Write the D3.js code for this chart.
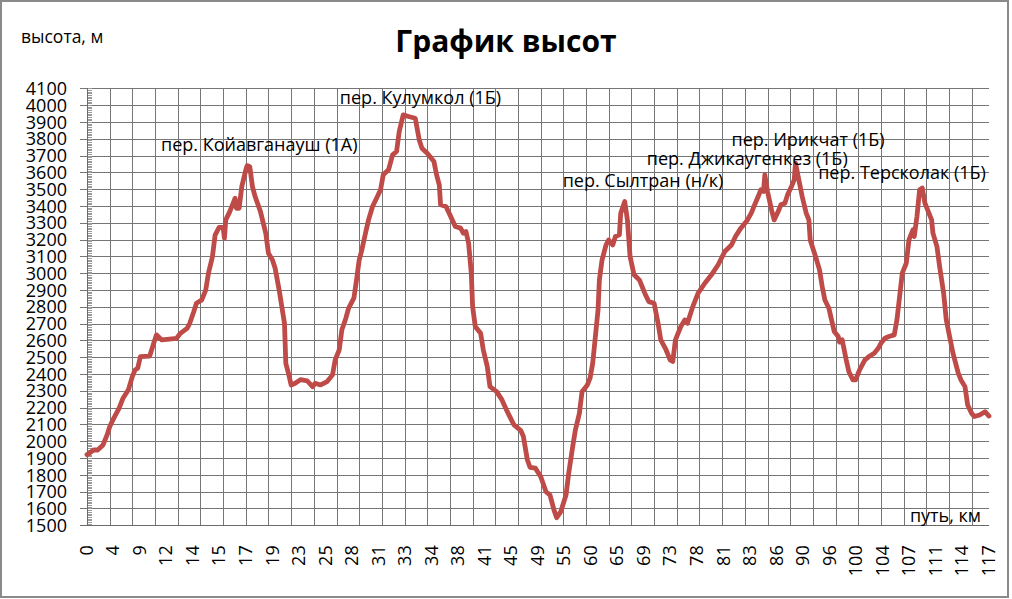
<!DOCTYPE html>
<html>
<head>
<meta charset="utf-8">
<script src="https://cdn.jsdelivr.net/npm/d3@7"></script>
<style>
  html, body { margin: 0; padding: 0; background: #fff; }
  svg { display: block; font-family: "Open Sans", "Noto Sans", sans-serif; }
</style>
</head>
<body>
<svg id="chart" width="1012" height="599"></svg>
<script>
// ---- data ----
const title = "График высот";
const yTitle = "высота, м";
const xTitle = "путь, км";

// point number along the track (category index) and elevation, m
const pointIndex = [0,5,8,12,15,17,20,24,27,31,34,36,38,40,47,50,52,56,60,67,70,75,77,80,82,86,89,91,94,96,99,102,103,104,107,110,111,112,114,116,119,120,122,124,126,130,134,136,139,141,144,146,148,149,151,153,156,160,165,169,171,175,180,184,186,189,191,194,196,200,202,204,206,209,211,214,217,220,222,226,229,232,234,237,241,246,249,251,255,260,262,264,265,269,272,276,280,282,284,286,288,289,291,295,297,300,302,307,311,315,320,325,327,330,332,336,340,344,347,350,352,355,359,361,364,366,369,371,375,377,379,381,383,384,386,389,391,394,396,399,400,403,405,407,410,414,418,421,425,428,430,434,437,439,441,445,448,450,454,458,463,468,473,478,483,486,490,495,498,500,503,505,507,508,510,513,515,518,520,523,525,528,530,531,534,536,539,541,542,544,546,549,551,553,556,558,560,563,564,566,569,571,574,576,579,583,586,590,593,595,598,601,605,607,609,611,614,616,619,620,622,624,626,628,630,633,634,637,639,642,644,647,649,653,655,658,660,663,665,669,673,676];
const elevation = [1920,1948,1948,1978,2036,2086,2136,2196,2256,2306,2386,2424,2434,2503,2507,2583,2633,2603,2606,2612,2642,2672,2702,2771,2821,2841,2900,2999,3098,3227,3273,3273,3208,3317,3366,3426,3446,3386,3386,3515,3614,3640,3634,3515,3456,3366,3237,3118,3079,3029,2900,2801,2702,2464,2404,2335,2345,2366,2360,2325,2345,2335,2355,2395,2484,2543,2663,2732,2791,2851,2960,3079,3139,3248,3317,3397,3446,3496,3585,3615,3704,3724,3843,3942,3932,3922,3793,3744,3714,3664,3585,3526,3407,3397,3347,3278,3268,3238,3248,3178,3000,2801,2682,2643,2543,2444,2325,2295,2246,2176,2097,2065,2030,1890,1845,1840,1790,1700,1680,1590,1545,1580,1680,1809,1968,2067,2166,2295,2335,2375,2464,2623,2782,2960,3079,3168,3198,3168,3218,3228,3357,3426,3317,3099,2990,2960,2881,2831,2821,2702,2603,2543,2484,2474,2603,2682,2722,2702,2801,2881,2940,2990,3050,3129,3168,3218,3268,3317,3360,3400,3456,3496,3486,3585,3486,3377,3317,3367,3407,3416,3466,3516,3555,3654,3535,3456,3357,3317,3198,3149,3099,3020,2920,2841,2791,2722,2653,2623,2590,2603,2484,2414,2365,2365,2424,2484,2504,2524,2553,2583,2613,2623,2633,2722,2861,3000,3059,3198,3258,3218,3337,3496,3506,3416,3377,3317,3238,3158,3039,2881,2722,2603,2524,2404,2365,2325,2216,2166,2147,2156,2176,2150];

// distance labels shown on the category axis, km
const kmLabels = ["0","4","9","12","14","15","17","19","23","25","28","31","33","34","38","41","45","49","55","60","65","69","73","78","81","83","86","90","96","100","104","107","111","114","117"];

// elevation axis ticks, m
const yTicks = d3.range(1500, 4101, 100);
const yMinorTicks = d3.range(1500, 4101, 10);

// pass annotations (anchored at a point index / elevation on the chart)
const passNames = ["пер. Койавганауш (1А)","пер. Кулумкол (1Б)","пер. Сылтран (н/к)","пер. Джикаугенкез (1Б)","пер. Ирикчат (1Б)","пер. Терсколак (1Б)"];
const passPoint = [55.5, 189.5, 356.5, 419.5, 483, 548];
const passElev  = [3724, 4008, 3515, 3645, 3758, 3560];

(function () {
// ---- layout ----
const pL = 87, pR = 989, pT = 88.3, pB = 525.3;
const svg = d3.select("#chart");

svg.append("rect").attr("x", 1).attr("y", 1).attr("width", 1007).attr("height", 596)
  .attr("fill", "#fff").attr("stroke", "#8a8a8a").attr("stroke-width", 2);

const x = d3.scaleLinear().domain([0, 676]).range([pL, pR]);
const y = d3.scaleLinear().domain([1500, 4100]).range([pB, pT]);
const xLab = d3.scalePoint().domain(kmLabels).range([86, 988]);

const gridColor = "#767676";

// horizontal gridlines (with outside major tick)
const gY = svg.append("g").attr("transform", `translate(${pL - 7},0)`)
  .call(d3.axisRight(y).tickValues(yTicks).tickSize(pR - pL + 7).tickFormat(""));
gY.select(".domain").remove();
gY.selectAll("line").attr("stroke", gridColor).attr("shape-rendering", "crispEdges");

// vertical gridlines every 17 points
const gX = svg.append("g").attr("transform", `translate(0,${pB})`)
  .call(d3.axisBottom(x).tickValues(d3.range(17, 676, 17)).tickSize(-(pB - pT)).tickFormat(""));
gX.select(".domain").remove();
gX.selectAll("line").attr("stroke", gridColor).attr("shape-rendering", "crispEdges");

// minor ticks on value axis
const gMinor = svg.append("g").attr("transform", `translate(${pL},0)`)
  .call(d3.axisRight(y).tickValues(yMinorTicks).tickSize(5).tickFormat(""));
gMinor.select(".domain").remove();
gMinor.selectAll("line").attr("stroke", "#9a9a9a").attr("shape-rendering", "crispEdges");

// axis lines
svg.append("line").attr("x1", pL).attr("x2", pL).attr("y1", pT).attr("y2", pB)
  .attr("stroke", "#6a6a6a").attr("shape-rendering", "crispEdges");
svg.append("line").attr("x1", pL - 7).attr("x2", pR).attr("y1", pB).attr("y2", pB)
  .attr("stroke", "#6a6a6a").attr("shape-rendering", "crispEdges");

// y tick labels
const gYL = svg.append("g").attr("transform", `translate(${pL - 7},0)`)
  .call(d3.axisLeft(y).tickValues(yTicks).tickSize(0).tickPadding(13).tickFormat(d3.format("d")));
gYL.select(".domain").remove();
gYL.selectAll("text").attr("font-size", 18).attr("font-family", "'Open Sans', sans-serif")
  .attr("fill", "#000").attr("dy", "0.34em");

// x tick labels (rotated)
const gXL = svg.append("g").attr("transform", `translate(0,${pB})`)
  .call(d3.axisBottom(xLab).tickSize(0).tickPadding(0));
gXL.select(".domain").remove();
gXL.selectAll("text")
  .attr("font-size", 18).attr("font-family", "'Open Sans', sans-serif").attr("fill", "#000")
  .attr("text-anchor", "end")
  .attr("transform", "rotate(-90)")
  .attr("x", -20).attr("y", 0).attr("dy", "0.35em");

// line
const data = pointIndex.map((p, i) => [p, elevation[i]]);
svg.append("path").datum(data)
  .attr("fill", "none").attr("stroke", "#BE4B48").attr("stroke-width", 4.8)
  .attr("stroke-linejoin", "round").attr("stroke-linecap", "round")
  .attr("d", d3.line().x(d => x(d[0])).y(d => y(d[1])));

// texts
svg.append("text").attr("x", 506).attr("y", 52).attr("text-anchor", "middle")
  .attr("font-size", 30).attr("font-weight", "bold").attr("fill", "#000").text(title);
svg.append("text").attr("x", 21).attr("y", 43).attr("font-size", 17.5).attr("fill", "#000").text(yTitle);
svg.append("text").attr("x", 981).attr("y", 522).attr("text-anchor", "end")
  .attr("font-size", 18).attr("fill", "#000").text(xTitle);

svg.append("g").selectAll("text").data(passNames).join("text")
  .attr("x", (d, i) => x(passPoint[i]))
  .attr("y", (d, i) => y(passElev[i]))
  .attr("font-size", 18).attr("fill", "#000").text(d => d);
})();
</script>
</body>
</html>
